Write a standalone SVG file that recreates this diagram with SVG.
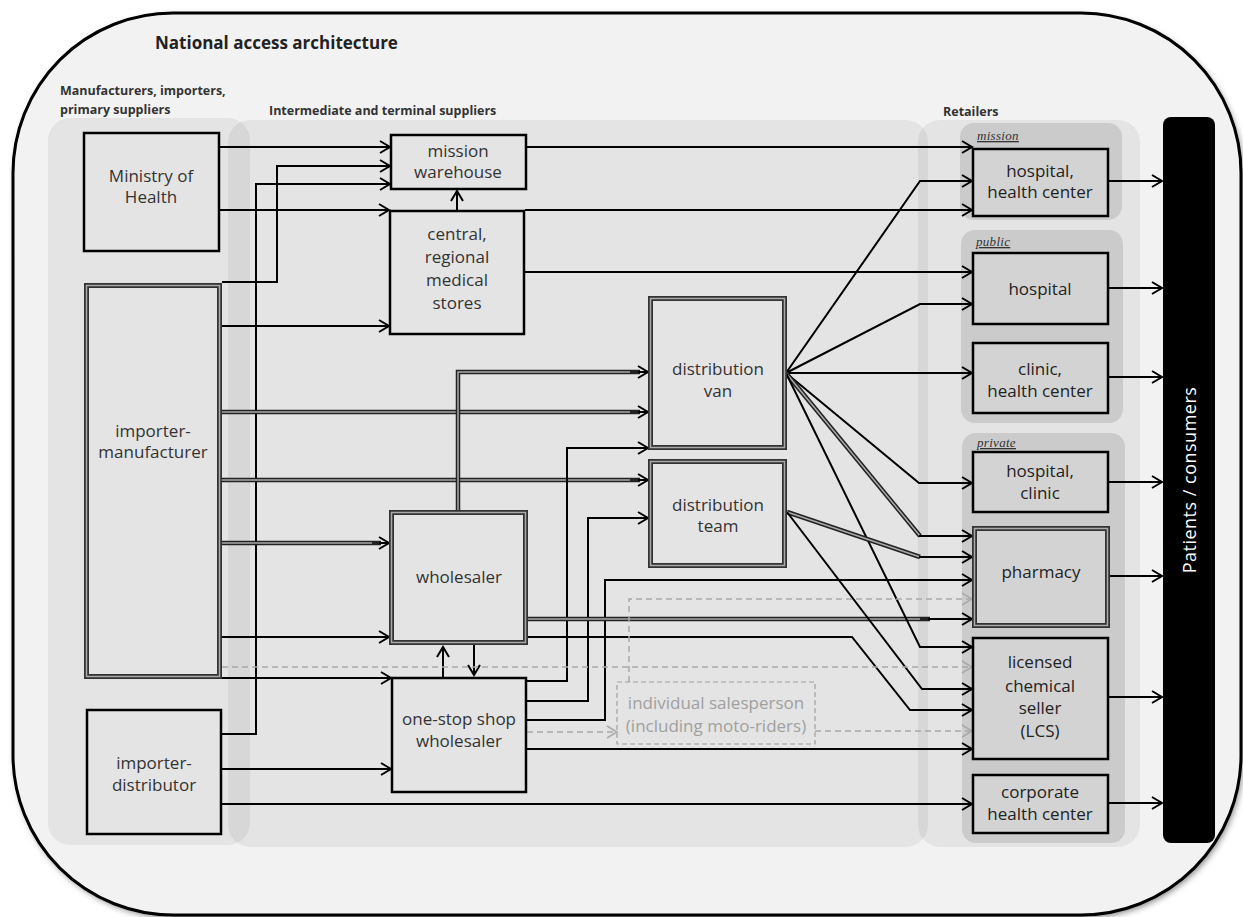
<svg xmlns="http://www.w3.org/2000/svg" width="1243" height="917" viewBox="0 0 1243 917">
  <defs>
    <marker id="ah" viewBox="-12 -8 14 16" refX="0" refY="0" markerWidth="14" markerHeight="16" markerUnits="userSpaceOnUse" orient="auto">
      <path d="M-10,-6 L0,0 L-10,6" fill="none" stroke="#000" stroke-width="2"/>
    </marker>
    <marker id="ahg" viewBox="-12 -8 14 16" refX="0" refY="0" markerWidth="14" markerHeight="16" markerUnits="userSpaceOnUse" orient="auto">
      <path d="M-10,-6 L0,0 L-10,6" fill="none" stroke="#aaa" stroke-width="1.5"/>
    </marker>
    <filter id="soft" x="-5%" y="-5%" width="110%" height="110%">
      <feGaussianBlur stdDeviation="3"/>
    </filter>
    <style>
      .lbl { font-family: "Open Sans", "Liberation Sans", sans-serif; font-size: 17px; fill: #333; text-anchor: middle; }
      .rlbl { font-family: "Open Sans", "Liberation Sans", sans-serif; font-size: 17px; fill: #222; text-anchor: middle; }
      .gray { fill: #a0a0a0; }
      .hdr { font-family: "Open Sans", "Liberation Sans", sans-serif; font-weight: bold; font-size: 12.5px; fill: #333; }
      .grp { font-family: "Liberation Serif", serif; font-style: italic; font-size: 13px; fill: #333; text-decoration: underline; letter-spacing: 0.3px; }
      .box { fill: #e4e4e4; stroke: #000; stroke-width: 2.5; }
      .rbox { fill: #d3d3d3; stroke: #000; stroke-width: 2.5; }
      .dbox { fill: #e4e4e4; stroke: #333; stroke-width: 5; }
      .dbox-r { fill: #d3d3d3; stroke: #333; stroke-width: 5; }
      .dline { fill: none; stroke: #aaa; stroke-width: 1.5; }
      .c { fill: none; stroke: #000; stroke-width: 2; marker-end: url(#ah); }
      .d-out { fill: none; stroke: #222; stroke-width: 4.5; }
      .d-in { fill: none; stroke: #aaa; stroke-width: 1.5; }
      .dash { fill: none; stroke: #a8a8a8; stroke-width: 1.5; stroke-dasharray: 6 4; marker-end: url(#ahg); }
      .panel { fill: #000; fill-opacity: 0.055; }
      .subpanel { fill: #cbcbcb; }
    </style>
  </defs>

  <!-- page and outer frame -->
  <rect x="0" y="0" width="1243" height="917" fill="#ffffff"/>
  <rect x="15" y="16" width="1228" height="902" rx="160" ry="160" fill="#888" filter="url(#soft)"/>
  <rect x="13" y="13" width="1228" height="902" rx="160" ry="160" fill="#f2f2f2" stroke="#000" stroke-width="3"/>

  <text x="155" y="49" font-family="Open Sans, Liberation Sans, sans-serif" font-weight="bold" font-size="17" fill="#222">National access architecture</text>

  <!-- column panels -->
  <g id="col-primary">
    <rect class="panel" x="48" y="118" width="202" height="727" rx="22"/>
    <text class="hdr" x="60" y="95">Manufacturers,  importers,</text>
    <text class="hdr" x="60" y="114">primary suppliers</text>
  </g>
  <g id="col-intermediate">
    <rect class="panel" x="228" y="120" width="700" height="727" rx="22"/>
    <text class="hdr" x="269" y="115">Intermediate and terminal suppliers</text>
  </g>
  <g id="col-retailers">
    <rect class="panel" x="918" y="120" width="222" height="727" rx="22" fill-opacity="0.035"/>
    <text class="hdr" x="943" y="116">Retailers</text>
    <rect class="subpanel" x="960" y="123" width="162" height="97" rx="14"/>
    <text class="grp" x="977" y="140">mission</text>
    <rect class="subpanel" x="961" y="230" width="162" height="193" rx="14"/>
    <text class="grp" x="976" y="246">public</text>
    <rect class="subpanel" x="962" y="433" width="163" height="410" rx="14"/>
    <text class="grp" x="977" y="447">private</text>
  </g>

  <!-- connectors -->
  <g id="connectors">
    <!-- into mission warehouse -->
    <path class="c" d="M219,147 H390"/>
    <path class="c" d="M222,282 H277 V166 H390"/>
    <path class="c" d="M222,734 H256 V184 H390"/>
    <!-- into central / regional medical stores -->
    <path class="c" d="M219,210 H389"/>
    <path class="c" d="M222,326 H389"/>
    <path class="c" d="M457,210 V191"/>
    <!-- to mission and public retailers -->
    <path class="c" d="M527,147 H972"/>
    <path class="c" d="M525,210 H972"/>
    <path class="c" d="M525,272 H972"/>
    <!-- importer-manufacturer double flows -->
    <path class="d-out" d="M222,412 H640"/>
    <path class="d-in" d="M222,412 H630"/>
    <path class="c" d="M638,412 H648"/>
    <path class="d-out" d="M222,480 H640"/>
    <path class="d-in" d="M222,480 H630"/>
    <path class="c" d="M638,480 H648"/>
    <path class="d-out" d="M222,543 H381"/>
    <path class="d-in" d="M222,543 H372"/>
    <path class="c" d="M379,543 H389"/>
    <path class="c" d="M222,637 H389"/>
    <path class="c" d="M222,678 H391"/>
    <!-- wholesaler to distribution van -->
    <path class="d-out" d="M458,510 V372 H640"/>
    <path class="d-in" d="M458,510 V372 H630"/>
    <path class="c" d="M638,372 H648"/>
    <!-- wholesaler / one-stop shop exchange -->
    <path class="c" d="M443,677 V647"/>
    <path class="c" d="M474,645 V675"/>
    <!-- importer-distributor -->
    <path class="c" d="M222,769 H391"/>
    <path class="c" d="M222,804 H972"/>
    <!-- one-stop shop wholesaler outputs -->
    <path class="c" d="M527,681 H567 V448 H648"/>
    <path class="c" d="M527,701 H588 V518 H648"/>
    <path class="c" d="M527,720 H605 V580 H972"/>
    <path class="c" d="M527,749 H972"/>
    <!-- wholesaler outputs -->
    <path class="d-out" d="M528,619 H930"/>
    <path class="d-in" d="M528,619 H920"/>
    <path class="c" d="M928,619 H972"/>
    <path class="c" d="M528,637 H852 L910,710 H972"/>
    <!-- distribution van fan-out -->
    <path class="c" d="M786,373 L920,181 H972"/>
    <path class="c" d="M786,373 L920,304 H972"/>
    <path class="c" d="M786,373 H972"/>
    <path class="c" d="M786,373 L919,483 H972"/>
    <path class="d-out" d="M786,373 L920,536"/>
    <path class="d-in" d="M786,373 L920,536"/>
    <path class="c" d="M919,536 H972"/>
    <path class="c" d="M786,373 L920,647 H972"/>
    <!-- distribution team fan-out -->
    <path class="d-out" d="M787,512 L920,557"/>
    <path class="d-in" d="M787,512 L920,557"/>
    <path class="c" d="M919,557 H972"/>
    <path class="c" d="M787,512 L922,689 H972"/>
    <!-- informal (dashed) flows -->
    <path class="dash" d="M222,667 H972"/>
    <path class="dash" d="M527,732 H617"/>
    <path class="dash" d="M629,682 V599 H972"/>
    <path class="dash" d="M815,731 H972"/>
    <!-- retailers to patients -->
    <path class="c" d="M1109,181 H1162"/>
    <path class="c" d="M1109,288 H1162"/>
    <path class="c" d="M1109,377 H1162"/>
    <path class="c" d="M1109,482 H1162"/>
    <path class="c" d="M1110,576 H1162"/>
    <path class="c" d="M1109,697 H1162"/>
    <path class="c" d="M1109,803 H1162"/>
  </g>

  <!-- primary suppliers -->
  <g id="ministry-of-health">
    <rect class="box" x="84" y="133" width="135" height="118"/>
    <text class="lbl" x="151" y="182">Ministry of</text>
    <text class="lbl" x="151" y="203">Health</text>
  </g>
  <g id="importer-manufacturer">
    <rect class="dbox" x="86.5" y="285.5" width="133" height="391"/>
    <rect class="dline" x="86.5" y="285.5" width="133" height="391"/>
    <text class="lbl" x="153" y="437">importer-</text>
    <text class="lbl" x="153" y="458">manufacturer</text>
  </g>
  <g id="importer-distributor">
    <rect class="box" x="87" y="710" width="134" height="124"/>
    <text class="lbl" x="154" y="769">importer-</text>
    <text class="lbl" x="154" y="791">distributor</text>
  </g>

  <!-- intermediate and terminal suppliers -->
  <g id="mission-warehouse">
    <rect class="box" x="391" y="135" width="135" height="54"/>
    <text class="lbl" x="458" y="157">mission</text>
    <text class="lbl" x="458" y="178">warehouse</text>
  </g>
  <g id="central-medical-stores">
    <rect class="box" x="390" y="211" width="134" height="123"/>
    <text class="lbl" x="457" y="240">central,</text>
    <text class="lbl" x="457" y="263">regional</text>
    <text class="lbl" x="457" y="286">medical</text>
    <text class="lbl" x="457" y="309">stores</text>
  </g>
  <g id="distribution-van">
    <rect class="dbox" x="650.5" y="298.5" width="134" height="149"/>
    <rect class="dline" x="650.5" y="298.5" width="134" height="149"/>
    <text class="lbl" x="718" y="375">distribution</text>
    <text class="lbl" x="718" y="397">van</text>
  </g>
  <g id="distribution-team">
    <rect class="dbox" x="650.5" y="461.5" width="134" height="104"/>
    <rect class="dline" x="650.5" y="461.5" width="134" height="104"/>
    <text class="lbl" x="718" y="511">distribution</text>
    <text class="lbl" x="718" y="532">team</text>
  </g>
  <g id="wholesaler">
    <rect class="dbox" x="391.5" y="512.5" width="134" height="130"/>
    <rect class="dline" x="391.5" y="512.5" width="134" height="130"/>
    <text class="lbl" x="459" y="583">wholesaler</text>
  </g>
  <g id="one-stop-shop">
    <rect class="box" x="392" y="678" width="134" height="114"/>
    <text class="lbl" x="459" y="725">one-stop shop</text>
    <text class="lbl" x="459" y="747">wholesaler</text>
  </g>
  <g id="individual-salesperson">
    <rect x="617" y="682" width="198" height="62" fill="none" stroke="#a0a0a0" stroke-width="1.2" stroke-dasharray="5 3"/>
    <text class="lbl gray" x="716" y="709">individual salesperson</text>
    <text class="lbl gray" x="716" y="732">(including moto-riders)</text>
  </g>

  <!-- retailers -->
  <g id="mission-hospital">
    <rect class="rbox" x="973" y="149" width="135" height="67"/>
    <text class="rlbl" x="1040" y="177">hospital,</text>
    <text class="rlbl" x="1040" y="198">health center</text>
  </g>
  <g id="public-hospital">
    <rect class="rbox" x="973" y="253" width="135" height="71"/>
    <text class="rlbl" x="1040" y="295">hospital</text>
  </g>
  <g id="public-clinic">
    <rect class="rbox" x="973" y="343" width="135" height="70"/>
    <text class="rlbl" x="1040" y="375">clinic,</text>
    <text class="rlbl" x="1040" y="397">health center</text>
  </g>
  <g id="private-hospital">
    <rect class="rbox" x="973" y="452" width="135" height="60"/>
    <text class="rlbl" x="1040" y="477">hospital,</text>
    <text class="rlbl" x="1040" y="499">clinic</text>
  </g>
  <g id="pharmacy">
    <rect class="dbox-r" x="974.5" y="528.5" width="133" height="97"/>
    <rect class="dline" x="974.5" y="528.5" width="133" height="97"/>
    <text class="rlbl" x="1041" y="578">pharmacy</text>
  </g>
  <g id="licensed-chemical-seller">
    <rect class="rbox" x="973" y="638" width="135" height="121"/>
    <text class="rlbl" x="1040" y="668">licensed</text>
    <text class="rlbl" x="1040" y="692">chemical</text>
    <text class="rlbl" x="1040" y="714">seller</text>
    <text class="rlbl" x="1040" y="737">(LCS)</text>
  </g>
  <g id="corporate-health-center">
    <rect class="rbox" x="973" y="775" width="135" height="58"/>
    <text class="rlbl" x="1040" y="798">corporate</text>
    <text class="rlbl" x="1040" y="820">health center</text>
  </g>

  <!-- end users -->
  <g id="patients">
    <rect x="1163" y="117" width="52" height="726" rx="8" fill="#000"/>
    <text x="0" y="0" transform="translate(1196,480) rotate(-90)" font-family="Open Sans, Liberation Sans, sans-serif" font-size="18" fill="#fff" text-anchor="middle" letter-spacing="0.5">Patients / consumers</text>
  </g>
</svg>
